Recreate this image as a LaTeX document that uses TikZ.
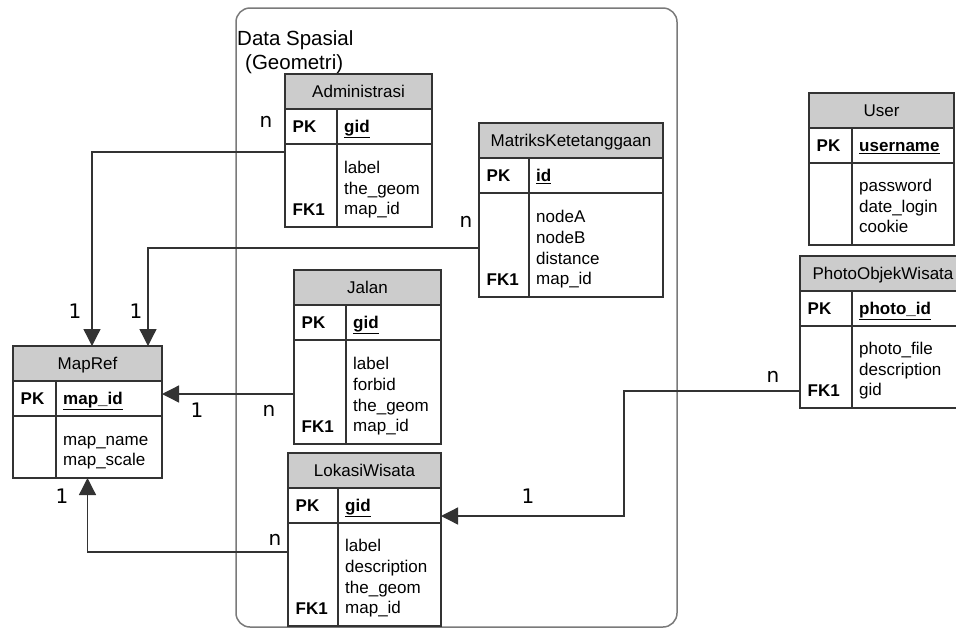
\documentclass[tikz,border=0pt]{standalone}
\usepackage{fontspec}
\setmainfont{Liberation Sans}
\newfontfamily\lblfont{DejaVu Sans}
\usetikzlibrary{arrows.meta,calc}
\definecolor{linec}{HTML}{333333}
\definecolor{hdrc}{HTML}{CCCCCC}
\definecolor{framec}{HTML}{7A7A7A}
\tikzset{
  tblbox/.style={fill=white, inner sep=0pt, outer sep=0pt, rectangle},
  tblline/.style={draw=linec, line width=1.6pt},
  ttl/.style={inner sep=0pt, font=\fontsize{17}{20.7}\selectfont},
  keyc/.style={inner sep=0pt, font=\fontsize{17}{20.7}\selectfont\bfseries},
  attr/.style={inner sep=0pt, align=left, font=\fontsize{17}{20.7}\selectfont},
  card/.style={inner sep=0pt, font=\fontsize{20}{24}\lblfont},
  conn/.style={draw=linec, line width=1.3pt},
  arr/.style={conn, -{Triangle[length=17pt,width=17pt]}},
  frame/.style={draw=framec, line width=1.5pt, rounded corners=14pt, inner sep=0pt, outer sep=0pt, rectangle},
  spas/.style={inner sep=0pt, font=\fontsize{20.5}{24}\selectfont}
}
% #1 name, #2 left, #3 top, #4 right, #5 bottom, #6 divider x, #7 title, #8 pk field, #9 attributes
\newcommand\ertable[9]{%
  \node[tblbox, minimum width={#4-#2}, minimum height={#5-#3}, anchor=north west] (#1) at (#2,#3) {};
  \fill[hdrc] (#2,#3) rectangle (#4,{#3+35});
  \draw[tblline] (#2,#3) rectangle (#4,#5)
     (#2,{#3+35}) -- (#4,{#3+35})
     (#2,{#3+70}) -- (#4,{#3+70})
     (#6,{#3+35}) -- (#6,#5);
  \node[ttl, anchor=base] (#1-t) at ({(#2+#4)/2},{#3+23.5}) {#7};
  \node[keyc, anchor=base west] (#1-pk) at ({#2+7.5},{#3+58.5}) {PK};
  \node[keyc, anchor=base west] (#1-pf) at ({#6+7},{#3+58.5}) {\underline{#8}};
  \node[attr, anchor=south west] (#1-a) at ({#6+7},{#5-5.8}) {#9\strut};
  \coordinate (#1-fk) at ({#2+7.5},{#5-12});
}
\begin{document}
\begin{tikzpicture}[x=1pt,y=-1pt]
\useasboundingbox (0,0) rectangle (956,630);
\clip (0,0) rectangle (956,630);

% container
\node[frame, minimum width=441, minimum height=619, anchor=north west] (spasial) at (236,8) {};
\node[spas, anchor=base west] (ds1) at (237,45) {Data Spasial};
\node[spas, anchor=base west] (ds2) at (245,69) {(Geometri)};

% tables
\ertable{mapref}{13}{346}{162}{478}{56}{MapRef}{map\_id}{map\_name\\map\_scale}
\ertable{admin}{285}{74}{432}{227}{337}{Administrasi}{gid}{label\\the\_geom\\map\_id}
\ertable{matriks}{479}{123}{663}{297}{529}{MatriksKetetanggaan}{id}{nodeA\\nodeB\\distance\\map\_id}
\ertable{jalan}{294}{270}{441}{444}{346}{Jalan}{gid}{label\\forbid\\the\_geom\\map\_id}
\ertable{lokasi}{288}{453}{441}{626}{338}{LokasiWisata}{gid}{label\\description\\the\_geom\\map\_id}
\ertable{user}{809}{93}{954}{245}{852}{User}{username}{password\\date\_login\\cookie}
\ertable{photo}{800}{256}{966}{408}{852}{PhotoObjekWisata}{photo\_id}{photo\_file\\description\\gid}

\node[keyc, anchor=base west] (admin-fk1) at (admin-fk) {FK1};
\node[keyc, anchor=base west] (matriks-fk1) at (matriks-fk) {FK1};
\node[keyc, anchor=base west] (jalan-fk1) at (jalan-fk) {FK1};
\node[keyc, anchor=base west] (lokasi-fk1) at (lokasi-fk) {FK1};
\node[keyc, anchor=base west] (photo-fk1) at (photo-fk) {FK1};

% connectors
\draw[arr] ([yshift=-1.5pt]admin.west) -| ([xshift=4.5pt]mapref.north);
\draw[arr] ([yshift=-38pt]matriks.west) -| ([xshift=60.5pt]mapref.north);
\draw[arr] ([yshift=-37pt]jalan.west) -- ([yshift=-37pt]jalan.west -| mapref.east);
\draw[arr] ([yshift=-12.5pt]lokasi.west) -| (mapref.south);
\coordinate (bend) at (624,516);
\draw[arr] ([yshift=-59pt]photo.west) -| (bend) -- (bend -| lokasi.east);

% cardinalities
\node[card] (c1) at (266,122) {n};
\node[card] (c2) at (466,222) {n};
\node[card] (c3) at (75,311) {1};
\node[card] (c4) at (136,311) {1};
\node[card] (c5) at (197,410) {1};
\node[card] (c6) at (269,411) {n};
\node[card] (c7) at (275,540) {n};
\node[card] (c8) at (62,496) {1};
\node[card] (c9) at (773,377) {n};
\node[card] (c10) at (528,496) {1};
\end{tikzpicture}
\end{document}
